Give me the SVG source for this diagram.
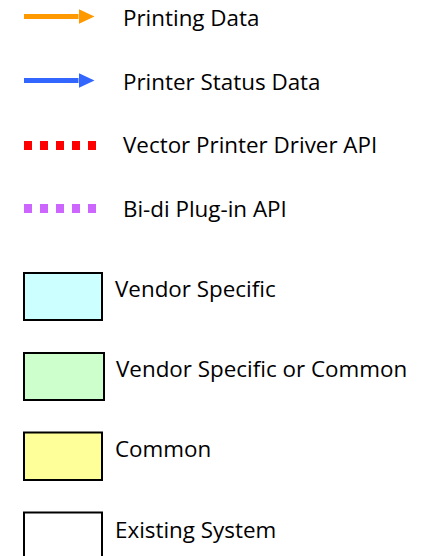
<svg xmlns="http://www.w3.org/2000/svg" width="423" height="556" viewBox="0 0 423 556">
<style>
text{font-family:"Open Sans","Noto Sans","DejaVu Sans",sans-serif;font-size:22.4px;fill:#000}
.box{stroke:#000;stroke-width:2}
.dot{stroke-width:9;stroke-dasharray:8 8;fill:none}
</style>
<defs>
<marker id="ao" markerUnits="userSpaceOnUse" markerWidth="16" markerHeight="15" refX="0" refY="7.5" orient="auto"><path d="M0,0 L16,7.5 L0,15 Z" fill="#ff9900"/></marker>
<marker id="ab" markerUnits="userSpaceOnUse" markerWidth="16" markerHeight="15" refX="0" refY="7.5" orient="auto"><path d="M0,0 L16,7.5 L0,15 Z" fill="#3366ff"/></marker>
</defs>
<g id="connectors">
<line x1="24" y1="16.5" x2="78.5" y2="16.5" stroke="#ff9900" stroke-width="5" marker-end="url(#ao)"/>
<line x1="24" y1="80.5" x2="78.5" y2="80.5" stroke="#3366ff" stroke-width="5" marker-end="url(#ab)"/>
<line class="dot" x1="24" y1="145.5" x2="96" y2="145.5" stroke="#ff0000"/>
<line class="dot" x1="24" y1="208.5" x2="96" y2="208.5" stroke="#cc66ff"/>
</g>
<g id="legend-printing-data"><text x="123" y="26">Printing Data</text></g>
<g id="legend-status-data"><text x="123" y="89.5">Printer Status Data</text></g>
<g id="legend-vector-api"><text x="123" y="153">Vector Printer Driver API</text></g>
<g id="legend-bidi-api"><text x="123" y="217">Bi-di Plug-in API</text></g>
<g id="node-vendor"><rect class="box" x="24" y="273" width="78" height="47" fill="#ccffff"/><text x="115" y="297">Vendor Specific</text></g>
<g id="node-vendor-common"><rect class="box" x="24" y="353" width="80" height="47" fill="#ccffcc"/><text x="116" y="376.5">Vendor Specific or Common</text></g>
<g id="node-common"><rect class="box" x="24" y="432.5" width="78" height="47.5" fill="#ffff99"/><text x="115" y="457">Common</text></g>
<g id="node-existing"><rect class="box" x="24" y="512.5" width="78" height="48" fill="#ffffff"/><text x="115" y="538">Existing System</text></g>
</svg>
